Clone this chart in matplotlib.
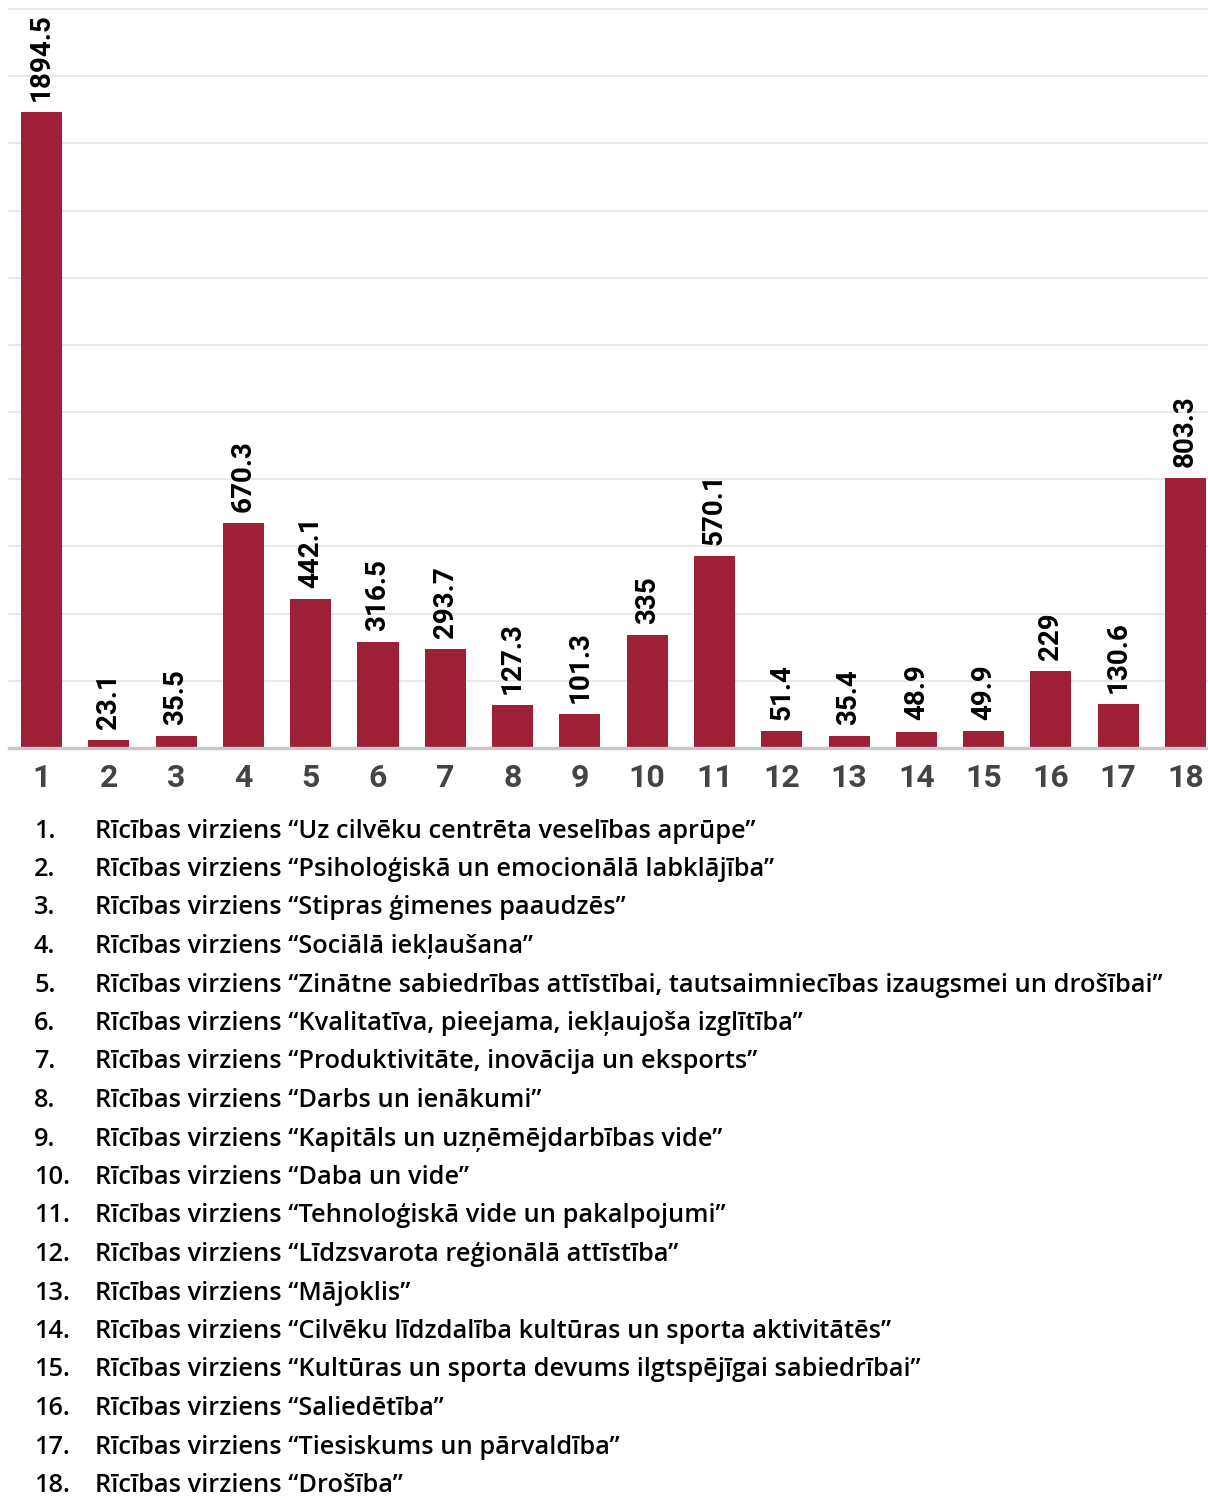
import matplotlib
matplotlib.use("Agg")
import matplotlib.pyplot as plt
import numpy as np

categories = [str(i) for i in range(1, 19)]
values = [1894.5, 23.1, 35.5, 670.3, 442.1, 316.5, 293.7, 127.3, 101.3, 335,
          570.1, 51.4, 35.4, 48.9, 49.9, 229, 130.6, 803.3]
value_labels = ["1894.5", "23.1", "35.5", "670.3", "442.1", "316.5", "293.7", "127.3",
                "101.3", "335", "570.1", "51.4", "35.4", "48.9", "49.9", "229", "130.6", "803.3"]
legend_items = [
    "Rīcības virziens “Uz cilvēku centrēta veselības aprūpe”",
    "Rīcības virziens “Psiholoģiskā un emocionālā labklājība”",
    "Rīcības virziens “Stipras ģimenes paaudzēs”",
    "Rīcības virziens “Sociālā iekļaušana”",
    "Rīcības virziens “Zinātne sabiedrības attīstībai, tautsaimniecības izaugsmei un drošībai”",
    "Rīcības virziens “Kvalitatīva, pieejama, iekļaujoša izglītība”",
    "Rīcības virziens “Produktivitāte, inovācija un eksports”",
    "Rīcības virziens “Darbs un ienākumi”",
    "Rīcības virziens “Kapitāls un uzņēmējdarbības vide”",
    "Rīcības virziens “Daba un vide”",
    "Rīcības virziens “Tehnoloģiskā vide un pakalpojumi”",
    "Rīcības virziens “Līdzsvarota reģionālā attīstība”",
    "Rīcības virziens “Mājoklis”",
    "Rīcības virziens “Cilvēku līdzdalība kultūras un sporta aktivitātēs”",
    "Rīcības virziens “Kultūras un sporta devums ilgtspējīgai sabiedrībai”",
    "Rīcības virziens “Saliedētība”",
    "Rīcības virziens “Tiesiskums un pārvaldība”",
    "Rīcības virziens “Drošība”",
]

W, H = 1208, 1497
fig = plt.figure(figsize=(W / 100, H / 100), dpi=100)
ax = fig.add_axes([9 / W, 1 - 748 / H, 1 - 9 / W, (748 - 9) / H])

x = np.arange(len(values))
bar_color = "#9D2036"
ax.bar(x, values, width=0.61, color=bar_color, zorder=3)

ax.set_xlim(-0.483, 17.334)
ax.set_ylim(0, 2200)
ax.set_yticks(np.arange(0, 2201, 200))
ax.yaxis.grid(True, color="#e8e8e8", linewidth=1.4, zorder=0)
for gl in ax.get_ygridlines():
    gl.set_clip_on(False)
ax.tick_params(axis="y", left=False, labelleft=False)
for s in ["top", "right", "left"]:
    ax.spines[s].set_visible(False)
ax.spines["bottom"].set_color("#c8c8c8")
ax.spines["bottom"].set_linewidth(2.4)
ax.spines["bottom"].set_zorder(4)

ax.set_xticks(x)
ax.set_xticklabels(categories, fontfamily="Roboto", fontsize=23, fontweight="bold", color="#444444")
ax.tick_params(axis="x", length=0, pad=11)

# value labels
for xi, v, lab in zip(x, values, value_labels):
    ax.annotate(lab, (xi, v), xytext=(0, 8), textcoords="offset points",
                rotation=90, ha="center", va="bottom", fontfamily="Roboto",
                fontsize=20, fontweight="bold", color="#000000", annotation_clip=False)

# legend list
y0 = 831
dy = 38.5
for i, item in enumerate(legend_items):
    yy = 1 - (y0 + i * dy) / H
    fig.text(34 / W, yy, f"{i + 1}.", ha="left", va="center",
             fontfamily=["Open Sans", "DejaVu Sans"], fontsize=18.3, fontweight="semibold", color="#000000")
    fig.text(95 / W, yy, item, ha="left", va="center",
             fontfamily=["Open Sans", "DejaVu Sans"], fontsize=18.3, fontweight="semibold", color="#000000")

fig.savefig("out.png", dpi=100)
